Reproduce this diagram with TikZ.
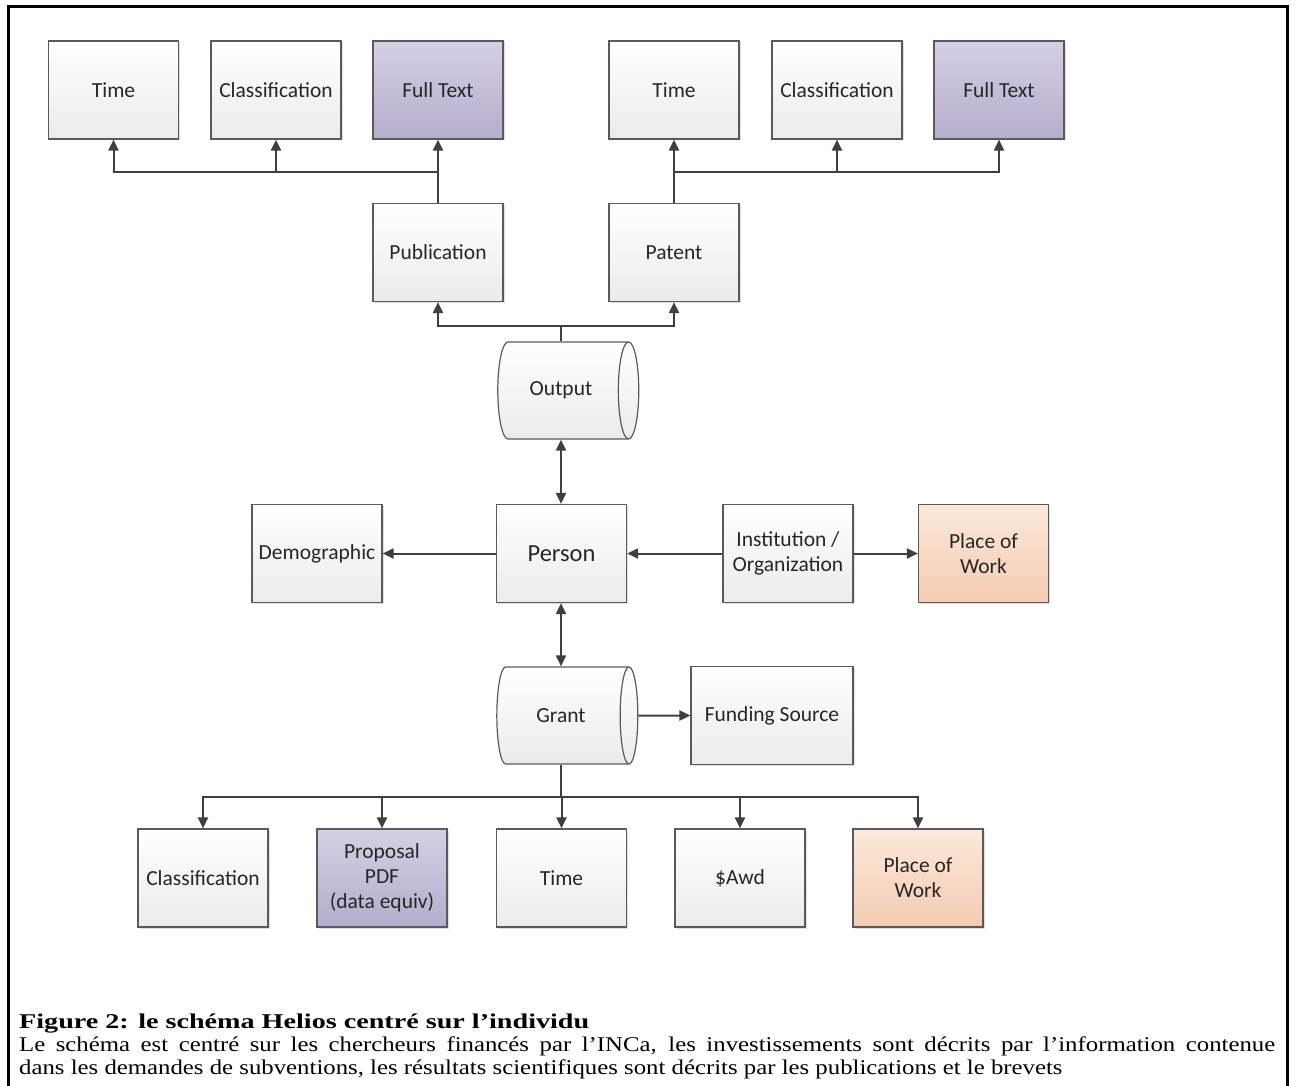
\documentclass[tikz,border=0pt]{standalone}
\usepackage{fontspec}
\setmainfont{Carlito}
\newfontfamily\capfont[FakeStretch=1.18, BoldFeatures={FakeStretch=1.34}]{Liberation Serif}
\usetikzlibrary{arrows.meta,shapes.geometric,shadows}

\definecolor{edgegray}{HTML}{5A5A5A}
\definecolor{wiregray}{HTML}{3F3F3F}
\definecolor{lilactop}{HTML}{D6CFE4}
\definecolor{lilacbot}{HTML}{B6ACCD}
\definecolor{peachtop}{HTML}{FCE8DA}
\definecolor{peachbot}{HTML}{F3CCB2}

\tikzset{
  entity/.style={draw=edgegray, line width=1.2pt, minimum width=130pt,
    minimum height=98pt, align=center, top color=white, bottom color=gray!16,
    text=black!85, font=\fontsize{21.5}{25}\selectfont,
    drop shadow={shadow xshift=1.5pt, shadow yshift=-1.5pt, opacity=0.25}},
  fulltext/.style={entity, top color=lilactop, bottom color=lilacbot},
  place/.style={entity, top color=peachtop, bottom color=peachbot},
  store/.style={cylinder, shape border rotate=0, aspect=0.85, draw=edgegray,
    line width=1.2pt, minimum width=97pt, minimum height=141pt,
    top color=white, bottom color=gray!16, text=black!85,
    font=\fontsize{21.5}{25}\selectfont},
  link/.style={draw=wiregray, line width=2pt,
    -{Triangle[length=11pt,width=10pt]}},
  twoway/.style={draw=wiregray, line width=2pt,
    {Triangle[length=11pt,width=10pt]}-{Triangle[length=11pt,width=10pt]}},
  bus/.style={draw=wiregray, line width=2pt},
}

\begin{document}
\begin{tikzpicture}[x=1pt, y=-1pt]
    \useasboundingbox (0,0) rectangle (1295,1086);

    % cadre de la figure
    \draw[line width=3pt] (8,1120) -- (8,7) -- (1287,7) -- (1287,1120);

    % attributs des sorties
    \node[entity]   (time1)     at (113.5, 90) {Time};
    \node[entity]   (class1)    at (276, 90)   {Classification};
    \node[fulltext] (fulltext1) at (438, 90)   {Full Text};
    \node[entity]   (time2)     at (674, 90)   {Time};
    \node[entity]   (class2)    at (837, 90)   {Classification};
    \node[fulltext] (fulltext2) at (999, 90)   {Full Text};

    \node[entity] (publication) at (438, 252.5) {Publication};
    \node[entity] (patent)      at (674, 252.5) {Patent};

    % noyau
    \node[store] (output) at (561, 390.5) {Output};
    \node[entity, font=\fontsize{24.5}{28}\selectfont] (person) at (561.5, 553.5) {Person};
    \node[store] (grant)  at (561, 715.5) {Grant};

    \node[entity] (demographic) at (317, 553.5)   {Demographic};
    \node[entity] (institution) at (788, 553.5)   {Institution /\\Organization};
    \node[place]  (placework1)  at (983.5, 553.5) {Place of\\Work};
    \node[entity, minimum width=162pt] (funding) at (772, 715.5) {Funding Source};

    % attributs des subventions
    \node[entity] (class3)     at (203, 878)   {Classification};
    \node[fulltext] (proposal) at (382, 878)   {Proposal\\PDF\\(data equiv)};
    \node[entity] (time3)      at (561.5, 878) {Time};
    \node[entity] (award)      at (740, 878)   {\$Awd};
    \node[place]  (placework2) at (918, 878)   {Place of\\Work};

    % points de branchement
    \coordinate (hubA) at (438, 172);
    \coordinate (hubB) at (674, 172);
    \coordinate (hubC) at (561, 326);
    \coordinate (hubD) at (561, 797);

    \draw[link] (publication.north) -- (fulltext1.south);
    \draw[link] (hubA) -| (time1.south);
    \draw[link] (hubA) -| (class1.south);

    \draw[link] (patent.north) -- (time2.south);
    \draw[link] (hubB) -| (class2.south);
    \draw[link] (hubB) -| (fulltext2.south);

    \draw[bus]  (hubC |- output.north) -- (hubC);
    \draw[link] (hubC) -| (publication.south);
    \draw[link] (hubC) -| (patent.south);

    \draw[twoway] (hubC |- output.south) -- (hubC |- person.north);
    \draw[twoway] (hubC |- person.south) -- (hubC |- grant.north);

    \draw[link] (person.west) -- (demographic.east);
    \draw[link] (institution.west) -- (person.east);
    \draw[link] (institution.east) -- (placework1.west);
    \draw[link] (grant.east) -- (funding.west);

    \draw[bus] (hubD |- grant.south) -- (hubD);
    \foreach \n in {class3, proposal, time3, award, placework2}
        \draw[link] (hubD) -| (\n.north);

    % légende
    \node[anchor=north west, inner sep=0pt, text width=1256pt, align=justify,
          font=\capfont\fontsize{21}{23}\selectfont] (caption) at (19, 1014)
        {{\bfseries Figure 2: le schéma Helios centré sur l’individu}\\
         Le schéma est centré sur les chercheurs financés par l’INCa, les investissements sont décrits par l’information contenue\linebreak
         dans les demandes de subventions, les résultats scientifiques sont décrits par les publications et le brevets};
\end{tikzpicture}
\end{document}
